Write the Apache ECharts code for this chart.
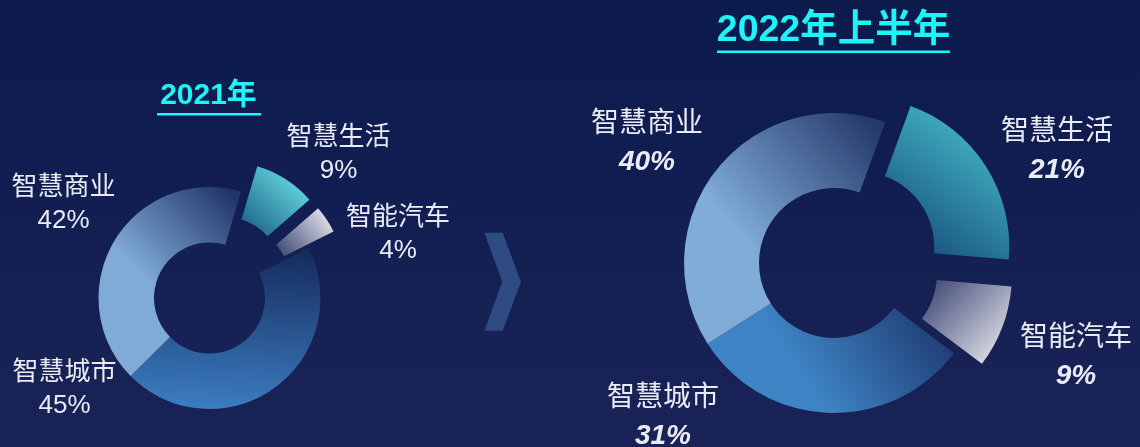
<!DOCTYPE html>
<html>
<head>
<meta charset="utf-8">
<title>业务占比</title>
<script src="https://cdn.jsdelivr.net/npm/echarts@6/dist/echarts.min.js"></script>
<style>
    html, body { margin: 0; padding: 0; background: #0c1a4d; }
    #main { width: 1140px; height: 447px; }
</style>
</head>
<body>
<div id="main"></div>
<script>
// 数据
var categories = ['智慧生活', '智能汽车', '智慧城市', '智慧商业'];
var share2021 = [9, 4, 45, 42];
var share2022 = [21, 9, 31, 40];
var pulledOut = ['智慧生活', '智能汽车'];
var titles = ['2021年', '2022年上半年'];

var FONT = '"Liberation Sans", Arial, "Noto Sans CJK SC", sans-serif';

function grad(x, y, x2, y2, c0, c1) {
    return new echarts.graphic.LinearGradient(x, y, x2, y2, [
        {offset: 0, color: c0},
        {offset: 1, color: c1}
    ]);
}

// 每块的渐变色
var leftColors = [
    grad(1, 0, 0, 1, '#74f0f2', '#15587f'),
    grad(1, 0, 0, 1, '#f6f6fa', '#353f6b'),
    grad(0.5, 0, 0.45, 1, '#162c5e', '#3b7dc0'),
    grad(0.35, 0.5, 0.95, 0.05, '#80abd6', '#22356a')
];
var rightColors = [
    grad(1, 0, 0.1, 1, '#4ecbd3', '#124677'),
    grad(0, 0, 1, 1, '#353f6d', '#f4f4f7'),
    grad(0.95, 0.1, 0.45, 0.85, '#1e3970', '#3e83c4'),
    grad(0.3, 0.55, 0.95, 0.05, '#80acd7', '#25396b')
];

// 标签位置（像素）
var leftLabelPos = [[338.5, 154], [398, 234.5], [64.5, 389.5], [63.5, 204]];
var rightLabelPos = [[1057, 151.5], [1076, 357.5], [663, 417], [647, 143.5]];

function buildData(values, colors) {
    return categories.map(function (name, i) {
        return {
            name: name,
            value: values[i],
            selected: pulledOut.indexOf(name) >= 0,
            itemStyle: {color: colors[i]}
        };
    });
}

// 扇形
function pieSeries(values, colors, center, radius, startAngle) {
    return {
        type: 'pie',
        center: center,
        radius: radius,
        startAngle: startAngle,
        clockwise: true,
        selectedMode: 'multiple',
        selectedOffset: 30,
        silent: true,
        select: {itemStyle: {borderWidth: 0}},
        label: {show: false},
        labelLine: {show: false},
        data: buildData(values, colors)
    };
}

// 只画文字的透明饼
function labelSeries(values, center, radius, startAngle, labelPos, big) {
    var lh = big ? 38 : 33;
    var fs = big ? 28 : 26;
    return {
        type: 'pie',
        center: center,
        radius: radius,
        startAngle: startAngle,
        silent: true,
        avoidLabelOverlap: false,
        itemStyle: {color: 'rgba(0,0,0,0)'},
        label: {
            show: true,
            position: 'outside',
            formatter: '{n|{b}}\n{p|{c}%}',
            rich: {
                n: {fontSize: fs, color: '#e9ecf5', lineHeight: lh, align: 'center', fontFamily: FONT},
                p: {
                    fontSize: fs, color: '#e9ecf5', lineHeight: lh, align: 'center', fontFamily: FONT,
                    fontWeight: big ? 'bold' : 'normal',
                    fontStyle: big ? 'italic' : 'normal'
                }
            }
        },
        labelLine: {show: false},
        labelLayout: function (params) {
            var p = labelPos[params.dataIndex];
            return {x: p[0], y: p[1], align: 'center', verticalAlign: 'middle'};
        },
        data: categories.map(function (name, i) {
            return {name: name, value: values[i]};
        })
    };
}

var chart = echarts.init(document.getElementById('main'));
var option = {
    animation: false,
    backgroundColor: grad(0, 0, 0, 1, '#0c1a4c', '#1a2357'),
    graphic: [
        {
            type: 'text', x: 208.5, y: 96,
            style: {text: titles[0], align: 'center', verticalAlign: 'middle', fill: '#1ef4f7',
                font: 'bold 30px ' + FONT}
        },
        {type: 'rect', shape: {x: 157, y: 113, width: 104, height: 2.5}, style: {fill: '#1ef4f7'}},
        {
            type: 'text', x: 833.5, y: 31,
            style: {text: titles[1], align: 'center', verticalAlign: 'middle', fill: '#1ef4f7',
                font: 'bold 37.5px ' + FONT}
        },
        {type: 'rect', shape: {x: 717, y: 50.5, width: 233, height: 2.5}, style: {fill: '#1ef4f7'}},
        // 中间箭头
        {
            type: 'polygon',
            shape: {points: [[484.3, 232.7], [502.7, 232.7], [521, 281.7], [502.7, 330.7], [484.3, 330.7], [502.3, 281.7]]},
            style: {fill: '#2e4b82'}
        }
    ],
    series: [
        pieSeries(share2021, leftColors, [209.5, 298], [55.5, 111], 73.5),
        pieSeries(share2022, rightColors, [834, 263], [75, 150], 70),
        labelSeries(share2021, [209.5, 298], [55.5, 111], 73.5, leftLabelPos, false),
        labelSeries(share2022, [834, 263], [75, 150], 70, rightLabelPos, true)
    ]
};
chart.setOption(option);
</script>
</body>
</html>
